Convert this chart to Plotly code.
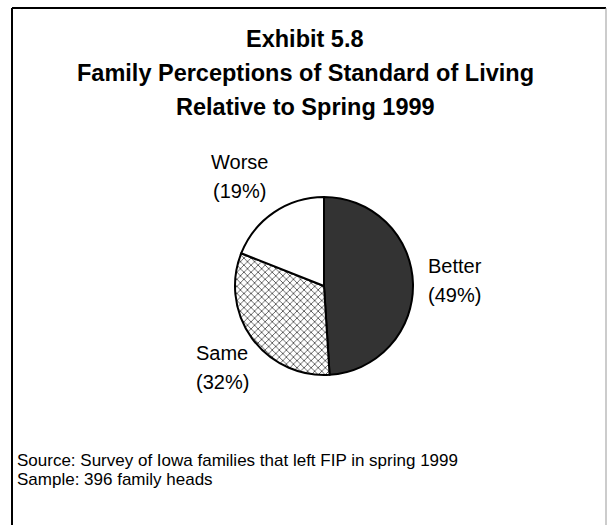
import plotly.graph_objects as go

# Survey responses: how families rate their standard of living now
categories = ["Better", "Same", "Worse"]
percents = [49, 32, 19]
slice_colors = ["#333333", "#ffffff", "#ffffff"]
slice_patterns = ["", "x", ""]

title_lines = [
    "Exhibit 5.8",
    "Family Perceptions of Standard of Living",
    "Relative to Spring 1999",
]
note_lines = [
    "Source: Survey of Iowa families that left FIP in spring 1999",
    "Sample: 396 family heads",
]

W, H = 607, 525
FONT = "Arial, 'Liberation Sans', sans-serif"


def px(x):
    return x / W


def py(y):
    return 1 - y / H


# pie placement (pixels)
cx, cy, r = 324, 286, 89

fig = go.Figure(
    go.Pie(
        labels=categories,
        values=percents,
        sort=False,
        direction="clockwise",
        rotation=0,
        textinfo="none",
        hoverinfo="label+percent",
        marker=dict(
            colors=slice_colors,
            line=dict(color="#000000", width=2),
            pattern=dict(
                shape=slice_patterns,
                fgcolor="#000000",
                bgcolor="#ffffff",
                size=5,
                solidity=0.22,
            ),
        ),
        domain=dict(x=[px(cx - r), px(cx + r)], y=[py(cy + r), py(cy - r)]),
        showlegend=False,
    )
)

annotations = []

# title block
title_y = [39, 73, 107]
for line, y in zip(title_lines, title_y):
    annotations.append(dict(
        text=f"<b>{line}</b>", x=px(305), y=py(y), xref="paper", yref="paper",
        xanchor="center", yanchor="middle", showarrow=False,
        font=dict(family=FONT, size=23.5, color="#000000"),
    ))

# slice labels: name on the first line, share underneath
label_pos = {
    "Better": (455, 266),
    "Same": (222, 353),
    "Worse": (239, 162),
}
for name, value in zip(categories, percents):
    lx, ly = label_pos[name]
    for i, txt in enumerate([name, f"({value}%)"]):
        annotations.append(dict(
            text=txt, x=px(lx), y=py(ly + i * 29), xref="paper", yref="paper",
            xanchor="center", yanchor="middle", showarrow=False,
            font=dict(family=FONT, size=20, color="#000000"),
        ))

# source notes
for i, line in enumerate(note_lines):
    annotations.append(dict(
        text=line, x=px(15), y=py(461 + i * 18), xref="paper", yref="paper",
        xanchor="left", yanchor="middle", showarrow=False,
        font=dict(family=FONT, size=17, color="#000000"),
    ))

# frame around the exhibit
shapes = [
    dict(type="line", xref="paper", yref="paper", x0=px(12), x1=px(606),
         y0=py(8), y1=py(8), line=dict(color="#000000", width=2)),
    dict(type="line", xref="paper", yref="paper", x0=px(12), x1=px(12),
         y0=py(8), y1=py(H + 5), line=dict(color="#000000", width=2)),
    dict(type="line", xref="paper", yref="paper", x0=px(606), x1=px(606),
         y0=py(8), y1=py(H + 5), line=dict(color="#999999", width=1)),
]

fig.update_layout(
    width=W, height=H,
    margin=dict(l=0, r=0, t=0, b=0),
    paper_bgcolor="#ffffff",
    plot_bgcolor="#ffffff",
    annotations=annotations,
    shapes=shapes,
)

fig.write_html("out.html")
